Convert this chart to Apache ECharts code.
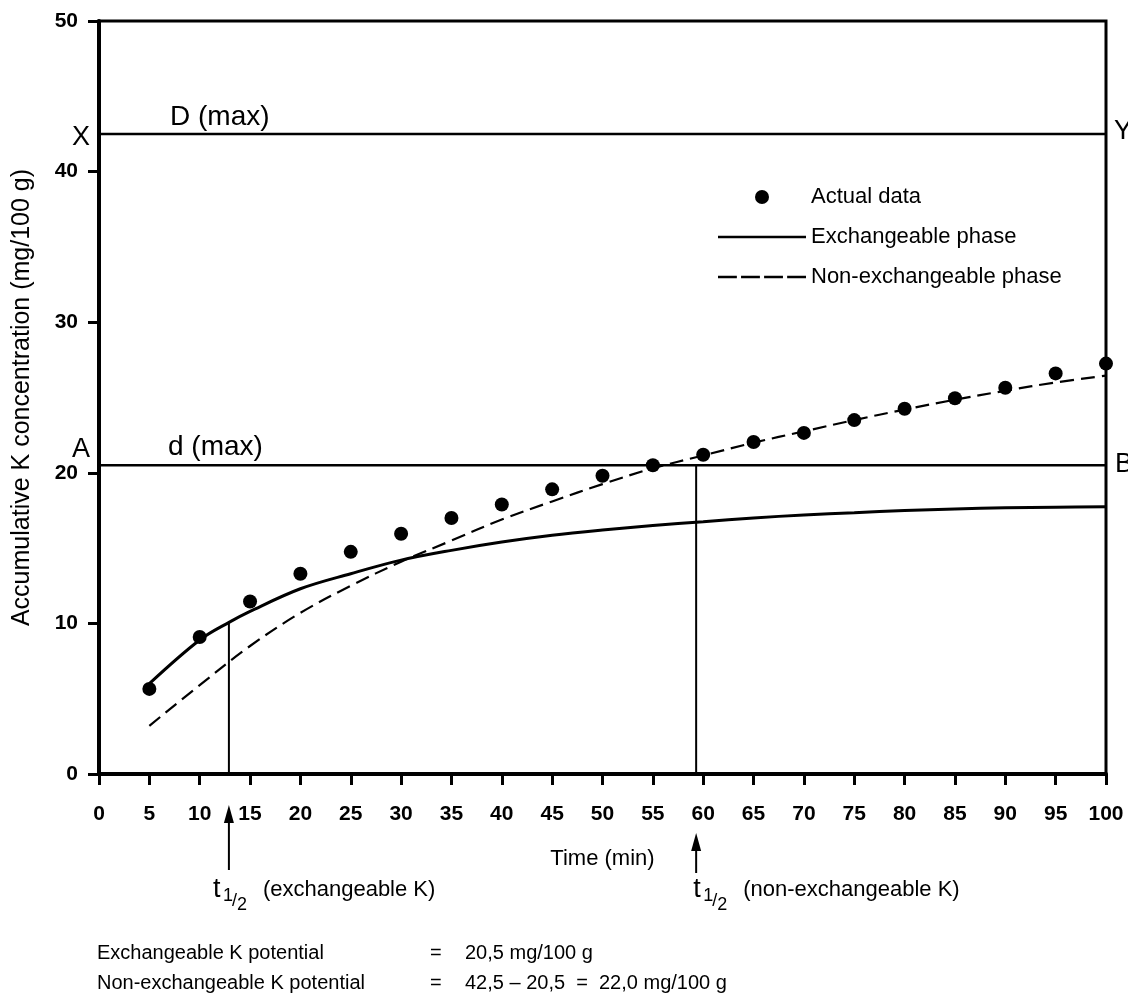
<!DOCTYPE html>
<html><head><meta charset="utf-8">
<script src="https://cdn.jsdelivr.net/npm/echarts@6/dist/echarts.min.js"></script>
<style>html,body{margin:0;padding:0;background:#fff}#c{width:1128px;height:1000px}</style>
</head><body><div id="c"></div>
<script>
// ---- data ----
const actualX = [5,10,15,20,25,30,35,40,45,50,55,60,65,70,75,80,85,90,95,100];
const actualY = [5.65,9.1,11.45,13.3,14.75,15.95,17.0,17.9,18.9,19.8,20.5,21.2,22.05,22.65,23.5,24.25,24.95,25.65,26.6,27.25];
const exchX = [5,10,13,15,20,25,30,35,40,45,50,55,60,65,70,75,80,85,90,95,100];
const exchY = [6.0,8.9,10.1,10.8,12.3,13.3,14.2,14.85,15.4,15.85,16.2,16.5,16.75,17.0,17.2,17.35,17.5,17.6,17.68,17.72,17.75];
const nonExchX = [5,10,15,20,25,30,35,40,45,50,55,60,65,70,75,80,85,90,95,100];
const nonExchY = [3.2,5.9,8.5,10.7,12.5,14.1,15.5,16.9,18.1,19.25,20.3,21.15,22.0,22.75,23.5,24.2,24.85,25.45,26.0,26.45];
const DmaxValue = 42.5;
const dmaxValue = 20.5;
const tHalfExch = 12.9;      // min
const tHalfExchTop = 10.1;   // value on exchangeable curve
const tHalfNonExch = 59.3;   // min
const xRange = [0, 100];
const yRange = [0, 50];
const seriesNames = ['Actual data', 'Exchangeable phase', 'Non-exchangeable phase'];
const bottomLines = [
  ['Exchangeable K potential', '=', '20,5 mg/100 g'],
  ['Non-exchangeable K potential', '=', '42,5 \u2013 20,5  =  22,0 mg/100 g']
];

const zip = (a, b) => a.map((v, i) => [v, b[i]]);
const FONT = '"Liberation Sans", Arial, Helvetica, sans-serif';
const chart = echarts.init(document.getElementById('c'), null, {renderer: 'canvas'});

const solidIcon = 'path://M0,0h84v2.6h-84z';
const dashIcon = 'path://M0,0h18v2.4h-18zM22,0h18v2.4h-18zM44,0h18v2.4h-18zM66,0h18v2.4h-18z';

const option = {
  animation: false,
  backgroundColor: '#fff',
  textStyle: {fontFamily: FONT, color: '#000'},
  grid: {left: 99, right: 22, top: 21, bottom: 226, show: true, borderColor: '#000', borderWidth: 3},
  legend: {
    data: [
      {name: seriesNames[0], icon: 'circle'},
      {name: seriesNames[1], icon: solidIcon},
      {name: seriesNames[2], icon: dashIcon}
    ],
    orient: 'vertical', left: 718, top: 186, padding: 0,
    itemWidth: 88, itemHeight: 14, itemGap: 18,
    textStyle: {fontSize: 22, color: '#000', fontFamily: FONT},
    selectedMode: false
  },
  xAxis: {
    type: 'value', min: xRange[0], max: xRange[1], interval: 5,
    name: 'Time (min)', nameLocation: 'middle', nameGap: 74,
    nameTextStyle: {fontSize: 22, color: '#000', fontFamily: FONT},
    axisLine: {lineStyle: {color: '#000', width: 4}},
    axisTick: {length: 11, lineStyle: {color: '#000', width: 3}},
    axisLabel: {margin: 30, fontSize: 21, fontWeight: 'bold', color: '#000', fontFamily: FONT},
    splitLine: {show: false}
  },
  yAxis: {
    type: 'value', min: yRange[0], max: yRange[1], interval: 10,
    name: 'Accumulative K concentration (mg/100 g)', nameLocation: 'middle', nameGap: 64, nameRotate: 90,
    nameTextStyle: {fontSize: 25, color: '#000', fontFamily: FONT},
    axisLine: {lineStyle: {color: '#000', width: 4}},
    axisTick: {length: 11, lineStyle: {color: '#000', width: 3}},
    axisLabel: {margin: 21, fontSize: 21, fontWeight: 'bold', color: '#000', fontFamily: FONT},
    splitLine: {show: false}
  },
  series: [
    {name: 'D max', type: 'line', data: [[xRange[0], DmaxValue], [xRange[1], DmaxValue]], symbol: 'none',
     lineStyle: {color: '#000', width: 2.5}, silent: true, z: 2},
    {name: 'd max', type: 'line', data: [[xRange[0], dmaxValue], [xRange[1], dmaxValue]], symbol: 'none',
     lineStyle: {color: '#000', width: 2.5}, silent: true, z: 2},
    {name: 't exch', type: 'line', data: [[tHalfExch, 0], [tHalfExch, tHalfExchTop]], symbol: 'none',
     lineStyle: {color: '#000', width: 2}, silent: true, z: 2},
    {name: 't nonexch', type: 'line', data: [[tHalfNonExch, 0], [tHalfNonExch, dmaxValue]], symbol: 'none',
     lineStyle: {color: '#000', width: 2}, silent: true, z: 2},
    {name: seriesNames[1], type: 'line', data: zip(exchX, exchY), smooth: 0.35, symbol: 'none',
     color: '#000', itemStyle: {color: '#000'}, lineStyle: {color: '#000', width: 3}, z: 3},
    {name: seriesNames[2], type: 'line', data: zip(nonExchX, nonExchY), smooth: 0.35, symbol: 'none',
     color: '#000', itemStyle: {color: '#000'}, lineStyle: {color: '#000', width: 2.2, type: [14, 7]}, z: 3},
    {name: seriesNames[0], type: 'scatter', data: zip(actualX, actualY), symbol: 'circle', symbolSize: 14,
     itemStyle: {color: '#000', opacity: 1}, z: 4}
  ]
};
chart.setOption(option);

// ---- annotations positioned through the axes ----
const px = (x, y) => chart.convertToPixel({gridIndex: 0}, [x, y]);
const gDmax = px(xRange[0], DmaxValue), gDmaxR = px(xRange[1], DmaxValue);
const gdmax = px(xRange[0], dmaxValue), gdmaxR = px(xRange[1], dmaxValue);
const xE = px(tHalfExch, 0)[0], xN = px(tHalfNonExch, 0)[0];
const txt = (x, y, s, size, extra) => ({type: 'text', style: Object.assign({x: x, y: y, text: s, fontSize: size, fontFamily: FONT, fill: '#000', verticalAlign: 'middle'}, extra || {})});
const arrow = (x, tip, bottom) => [
  {type: 'line', shape: {x1: x, y1: tip + 14, x2: x, y2: bottom}, style: {stroke: '#000', lineWidth: 2}},
  {type: 'polygon', shape: {points: [[x, tip], [x - 5, tip + 18], [x + 5, tip + 18]]}, style: {fill: '#000'}}
];
const tHalf = (x, y, rest) => [
  txt(x, y, 't', 27),
  txt(x + 10, y + 6, '1', 18),
  txt(x + 19, y + 11, '/', 18),
  txt(x + 24, y + 15, '2', 18),
  txt(x + 50, y, rest, 22)
];
const graphics = [
  txt(gDmax[0] - 18, gDmax[1] + 4, 'X', 27, {align: 'center'}),
  txt(gDmaxR[0] + 8, gDmaxR[1] - 2, 'Y', 27),
  txt(gdmax[0] - 18, gdmax[1] - 16, 'A', 27, {align: 'center'}),
  txt(gdmaxR[0] + 9, gdmaxR[1] - 1, 'B', 27),
  txt(gDmax[0] + 71, gDmax[1] - 17, 'D (max)', 28),
  txt(gdmax[0] + 69, gdmax[1] - 18, 'd (max)', 28),
  ...arrow(xE, 805, 870),
  ...arrow(xN, 833, 873),
  ...tHalf(xE - 16, 890, '(exchangeable K)'),
  ...tHalf(xN - 3, 890, '(non-exchangeable K)'),
  txt(97, 953, bottomLines[0][0], 20), txt(430, 953, bottomLines[0][1], 20), txt(465, 953, bottomLines[0][2], 20),
  txt(97, 983, bottomLines[1][0], 20), txt(430, 983, bottomLines[1][1], 20), txt(465, 983, bottomLines[1][2], 20)
];
chart.setOption({graphic: graphics.map(g => Object.assign({silent: true, z: 10}, g))});
</script></body></html>
